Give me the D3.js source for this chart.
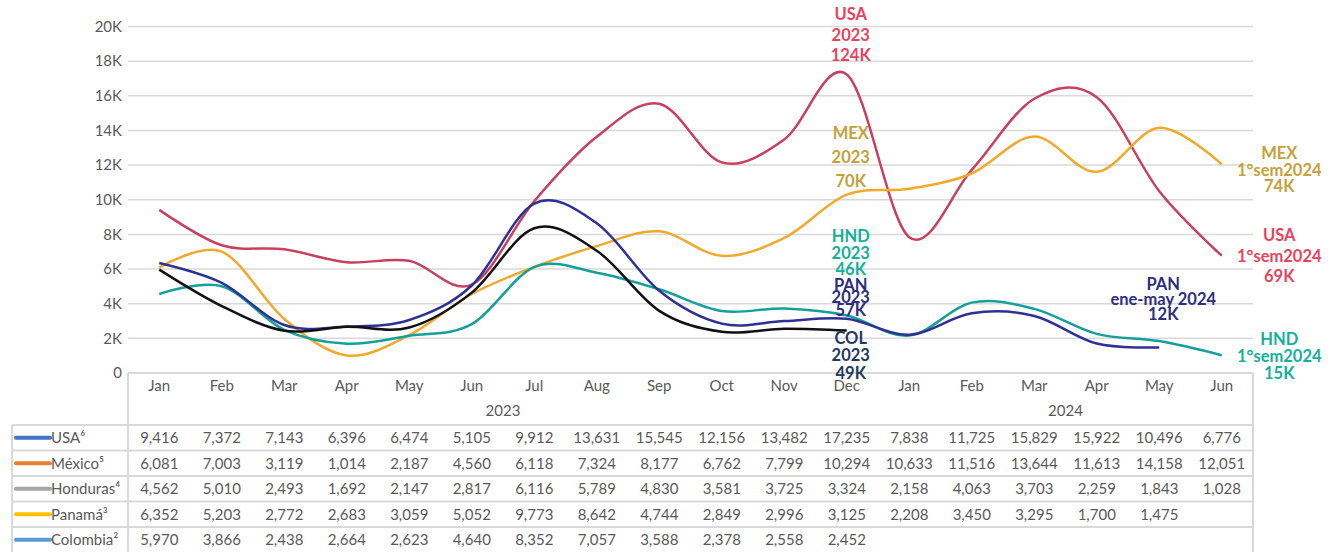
<!DOCTYPE html>
<html lang="es">
<head>
<meta charset="UTF-8">
<title>Flujos mensuales</title>
<script src="https://d3js.org/d3.v7.min.js"></script>
<style>
    body{ margin:0; background:#fff; }
    svg{ font-family: Lato, "Open Sans", sans-serif; }
    .tick-txt{ fill:#595959; font-size:15px; }
    .cell{ fill:#595959; font-size:15px; }
    .note{ font-weight:bold; font-size:16.5px; }
</style>
</head>
<body>
<svg id="chart" width="1336" height="552"></svg>
<script>
// months shown along the bottom, two years
const months = ["Jan","Feb","Mar","Apr","May","Jun","Jul","Aug","Sep","Oct","Nov","Dec",
                "Jan","Feb","Mar","Apr","May","Jun"];
const years = [{label:"2023", from:0, to:11}, {label:"2024", from:12, to:17}];
const yTicks = [0,2000,4000,6000,8000,10000,12000,14000,16000,18000,20000];

const usa      = [9416,7372,7143,6396,6474,5105,9912,13631,15545,12156,13482,17235,7838,11725,15829,15922,10496,6776];
const mexico   = [6081,7003,3119,1014,2187,4560,6118,7324,8177,6762,7799,10294,10633,11516,13644,11613,14158,12051];
const honduras = [4562,5010,2493,1692,2147,2817,6116,5789,4830,3581,3725,3324,2158,4063,3703,2259,1843,1028];
const panama   = [6352,5203,2772,2683,3059,5052,9773,8642,4744,2849,2996,3125,2208,3450,3295,1700,1475,null];
const colombia = [5970,3866,2438,2664,2623,4640,8352,7057,3588,2378,2558,2452,null,null,null,null,null,null];

const series = [
    {name:"USA\u2076",       values:usa,      line:"#c7405e", key:"#4472c4"},
    {name:"México\u2075",    values:mexico,   line:"#f0a92a", key:"#ed7d31"},
    {name:"Honduras\u2074",  values:honduras, line:"#14a09a", key:"#a5a5a5"},
    {name:"Panamá\u00b3",    values:panama,   line:"#2e3192", key:"#ffc000"},
    {name:"Colombia\u00b2",  values:colombia, line:"#111111", key:"#5b9bd5"}
];

// annotations: [lines], month index it sits over, value it sits at, colour
const notes = [
    {lines:["USA","2023","124K"],               col:11, yv:20350, dy:20.5, color:"#e8435e"},
    {lines:["MEX","2023","70K"],                col:11, yv:13500, dy:24,   color:"#c3a23a"},
    {lines:["HND","2023","46K"],                col:11, yv:7550,  dy:16.5, color:"#13b09a"},
    {lines:["PAN","2023","57K"],                col:11, yv:4750,  dy:12.5, color:"#2e2e80"},
    {lines:["COL","2023","49K"],                col:11, yv:1700,  dy:17.5, color:"#1f3a5f"},
    {lines:["MEX","1°sem2024","74K"],           col:18, yv:12350, dy:16.5, color:"#c3a23a"},
    {lines:["USA","1°sem2024","69K"],           col:18, yv:7600,  dy:20.5, color:"#e8435e"},
    {lines:["PAN","ene-may 2024","12K"],        col:16, yv:4800,  dy:15,   color:"#2e2e80"},
    {lines:["HND","1°sem2024","15K"],           col:18, yv:1600,  dy:17,   color:"#13b09a"}
];

const svg = d3.select("#chart");
const plotLeft = 128, plotRight = 1253, plotTop = 26.5, plotBase = 373;

let x = d3.scaleBand().domain(d3.range(months.length)).range([plotLeft, plotRight]);
let cx = i => x(i) + x.bandwidth()/2;
let y = d3.scaleLinear().domain([0,20000]).range([plotBase, plotTop]);

// gridlines
svg.append("g").selectAll("line")
    .data(yTicks.slice(1))
    .enter().append("line")
    .attr("x1", plotLeft).attr("x2", plotRight)
    .attr("y1", d => y(d)).attr("y2", d => y(d))
    .attr("stroke", "#d9d9d9").attr("stroke-width", 1.5);

// y labels
let yAxis = d3.axisLeft(y).tickValues(yTicks)
    .tickFormat(d => d === 0 ? "0" : (d/1000) + "K")
    .tickSize(0).tickPadding(6);
let ya = svg.append("g").attr("transform", `translate(${plotLeft},0)`).call(yAxis);
ya.select(".domain").remove();
ya.attr("font-family", null).attr("font-size", null);
ya.selectAll("text").attr("class","tick-txt").attr("fill", null);

// lines
let lineGen = d3.line()
    .defined(d => d != null)
    .x((d,i) => cx(i))
    .y(d => y(d))
    .curve(d3.curveCatmullRom.alpha(0));

svg.append("g").selectAll("path")
    .data(series)
    .enter().append("path")
    .attr("d", d => lineGen(d.values))
    .attr("fill","none")
    .attr("stroke", d => d.line)
    .attr("stroke-width", 2.5);

// data table
let table = svg.append("g");
const rowTop = 425, rowH = 25.5, legLeft = 12, tableBorder = "#d9d9d9";

table.selectAll("text.month")
    .data(months)
    .enter().append("text")
    .attr("class","tick-txt")
    .attr("x", (d,i) => cx(i)).attr("y", 391)
    .attr("text-anchor","middle")
    .text(d => d);

table.selectAll("text.year")
    .data(years)
    .enter().append("text")
    .attr("class","tick-txt")
    .attr("x", d => (x(d.from) + x(d.to) + x.bandwidth())/2).attr("y", 416)
    .attr("text-anchor","middle")
    .text(d => d.label);

// borders
let hl = [plotBase].concat(series.map((s,i) => rowTop + i*rowH));
table.selectAll("line.h")
    .data(hl)
    .enter().append("line")
    .attr("x1", (d,i) => i === 0 ? plotLeft : legLeft).attr("x2", plotRight)
    .attr("y1", d => d).attr("y2", d => d)
    .attr("stroke", tableBorder).attr("stroke-width", 2);
table.append("line").attr("x1", plotLeft).attr("x2", plotLeft).attr("y1", plotBase).attr("y2", 552)
    .attr("stroke", tableBorder).attr("stroke-width", 2);
table.append("line").attr("x1", plotRight).attr("x2", plotRight).attr("y1", plotBase).attr("y2", 552)
    .attr("stroke", tableBorder).attr("stroke-width", 2);
table.append("line").attr("x1", legLeft).attr("x2", legLeft).attr("y1", rowTop).attr("y2", 552)
    .attr("stroke", tableBorder).attr("stroke-width", 2);

let fmt = d3.format(",");
let rows = table.selectAll("g.row")
    .data(series)
    .enter().append("g")
    .attr("transform", (d,i) => `translate(0,${rowTop + i*rowH + rowH/2})`);

rows.append("line")
    .attr("x1", 16).attr("x2", 50).attr("y1", 0).attr("y2", 0)
    .attr("stroke", d => d.key).attr("stroke-width", 4).attr("stroke-linecap","round");
rows.append("text")
    .attr("class","cell")
    .attr("x", 51).attr("dy", "0.35em")
    .text(d => d.name);

rows.selectAll("text.v")
    .data(d => d.values)
    .enter().append("text")
    .attr("class","cell")
    .attr("x", (d,i) => cx(i)).attr("dy","0.35em")
    .attr("text-anchor","middle")
    .text(d => d == null ? "" : fmt(d));

// annotations
let extra = x.bandwidth();
svg.append("g").selectAll("text")
    .data(notes)
    .enter().append("text")
    .attr("class","note")
    .attr("fill", d => d.color)
    .attr("text-anchor","middle")
    .each(function(d){
        let px = d.col < months.length ? cx(d.col) + 4 : cx(months.length-1) + extra*0.92;
        let t = d3.select(this);
        d.lines.forEach((l,k) => {
            t.append("tspan").attr("x", px).attr("y", y(d.yv) + k*d.dy).text(l);
        });
    });
</script>
</body>
</html>
